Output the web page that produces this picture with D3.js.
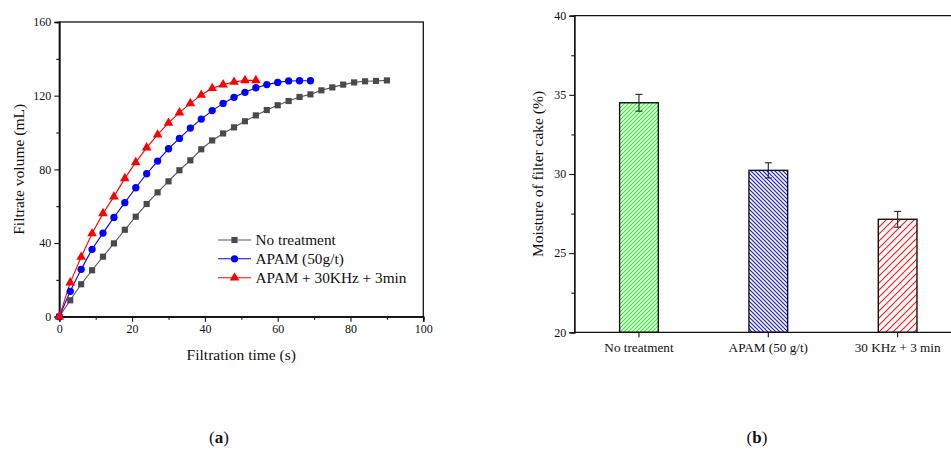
<!DOCTYPE html>
<html><head><meta charset="utf-8">
<script src="https://cdn.jsdelivr.net/npm/d3@7"></script>
<style>body{margin:0;background:#fff}svg{display:block}text{font-family:"Liberation Serif","Times New Roman",serif;fill:#111}</style>
</head><body>
<svg id="c" width="951" height="450"></svg>
<script>
// ---------- data (a) ----------
const timeNo = [0,3,6,9,12,15,18,21,24,27,30,33,36,39,42,45,48,51,54,57,60,63,66,69,72,75,78,81,84,87,90];
const volNo = [0,8.9,17.6,25.2,32.6,39.8,47.2,54.3,61.2,67.5,73.5,79.5,84.9,90.9,95.7,99.5,102.8,106.1,109.3,112.2,114.8,117.1,119.3,120.7,122.9,124.5,126.0,127.2,127.8,128.0,128.3];
const timeApam = [0,3,6,9,12,15,18,21,24,27,30,33,36,39,42,45,48,51,54,57,60,63,66,69];
const volApam = [0,13.8,25.7,36.6,45.4,53.9,61.9,70.0,77.6,84.5,91.2,96.8,102.4,107.3,111.9,115.8,119.1,121.8,124.3,126.0,127.2,128.0,128.1,128.1];
const timeUs = [0,3,6,9,12,15,18,21,24,27,30,33,36,39,42,45,48,51,54];
const volUs = [0,18.5,32.4,45.2,56.1,65.2,75.1,83.8,91.8,98.8,105.2,110.8,115.8,120.4,124.0,126.0,127.4,128.3,128.3];
const seriesNames = ["No treatment","APAM (50g/t)","APAM + 30KHz + 3min"];
const xTicksA = [0,20,40,60,80,100];
const yTicksA = [0,40,80,120,160];
// ---------- data (b) ----------
const categoriesB = ["No treatment","APAM (50 g/t)","30 KHz + 3 min"];
const moisture = [34.5,30.23,27.14];
const moistureErr = [0.53,0.48,0.5];
const yTicksB = [20,25,30,35,40];

const svg = d3.select("#c");
const defs = svg.append("defs");

// ---------- panel (a) ----------
const xA = d3.scaleLinear().domain([0,100]).range([59.3,423.3]);
const yA = d3.scaleLinear().domain([0,160]).range([316.7,22]);
const gA = svg.append("g");
gA.append("rect").attr("x",xA(0)).attr("y",yA(160)).attr("width",xA(100)-xA(0)).attr("height",yA(0)-yA(160))
  .attr("fill","none").attr("stroke","#111").attr("stroke-width",1.3);
const axXA = gA.append("g").attr("transform",`translate(0,${yA(0)})`)
  .call(d3.axisBottom(xA).tickValues(xTicksA).tickSize(5).tickPadding(3).tickFormat(d3.format("d")));
const axXAm = gA.append("g").attr("transform",`translate(0,${yA(0)})`)
  .call(d3.axisBottom(xA).tickValues([10,30,50,70,90]).tickSize(3).tickFormat(""));
const axYA = gA.append("g").attr("transform",`translate(${xA(0)},0)`)
  .call(d3.axisLeft(yA).tickValues(yTicksA).tickSize(5).tickPadding(3).tickFormat(d3.format("d")));
const axYAm = gA.append("g").attr("transform",`translate(${xA(0)},0)`)
  .call(d3.axisLeft(yA).tickValues([20,60,100,140]).tickSize(3).tickFormat(""));
[axXA,axXAm,axYA,axYAm].forEach(a=>{a.select(".domain").attr("stroke","#111").attr("stroke-width",1.3);a.selectAll("line").attr("stroke","#111").attr("stroke-width",1.1);a.selectAll("text").attr("font-size",12).attr("fill","#111").attr("font-family","Liberation Serif");});
gA.append("text").attr("x",xA(50)).attr("y",360).attr("text-anchor","middle").attr("font-size",15.5).text("Filtration time (s)");
gA.append("text").attr("transform",`translate(24,${yA(80)}) rotate(-90)`).attr("text-anchor","middle").attr("font-size",15.5).text("Filtrate volume (mL)");

const seriesA = [
  {t:timeNo,v:volNo,color:"#555555",mcolor:"#4a4a4a",shape:d3.symbolSquare,size:38},
  {t:timeApam,v:volApam,color:"#0000ff",mcolor:"#0000ff",shape:d3.symbolCircle,size:42},
  {t:timeUs,v:volUs,color:"#ff0000",mcolor:"#ff0000",shape:d3.symbolTriangle,size:40}
];
const line = d3.line().x(d=>xA(d[0])).y(d=>yA(d[1]));
seriesA.forEach(s=>{
  const pts = s.t.map((t,i)=>[t,s.v[i]]);
  gA.append("path").attr("d",line(pts)).attr("fill","none").attr("stroke",s.color).attr("stroke-width",1.1);
});
seriesA.forEach(s=>{
  const pts = s.t.map((t,i)=>[t,s.v[i]]);
  gA.selectAll(null).data(pts).enter().append("path")
    .attr("transform",d=>`translate(${xA(d[0])},${yA(d[1])})`)
    .attr("d",d3.symbol().type(s.shape).size(s.size)).attr("fill",s.mcolor);
});
const legRows = [240,258.8,277.7];
seriesA.forEach((s,i)=>{
  const y = legRows[i];
  gA.append("line").attr("x1",218).attr("x2",251).attr("y1",y).attr("y2",y).attr("stroke",s.color).attr("stroke-width",1.1);
  gA.append("path").attr("transform",`translate(234.5,${y})`).attr("d",d3.symbol().type(s.shape).size(s.size)).attr("fill",s.mcolor);
  gA.append("text").attr("x",255.5).attr("y",y+5).attr("font-size",15.3).text(seriesNames[i]);
});
svg.append("text").attr("x",219).attr("y",443).attr("text-anchor","middle").attr("font-size",17)
  .html('(<tspan font-weight="bold">a</tspan>)');

// ---------- panel (b) ----------
const xB = d3.scaleBand().domain(categoriesB).range([574.3,962.3]).paddingInner(0).paddingOuter(0);
const yB = d3.scaleLinear().domain([20,40]).range([332.3,15.7]);
const gB = svg.append("g");
const pats = [
  {id:"pg",color:"#00ff00",size:4,dir:1},
  {id:"pb",color:"#0000ff",size:4,dir:-1},
  {id:"pr",color:"#ff0000",size:7,dir:1}
];
pats.forEach(p=>{
  const pt = defs.append("pattern").attr("id",p.id).attr("patternUnits","userSpaceOnUse")
    .attr("width",p.size).attr("height",p.size);
  pt.append("rect").attr("width",p.size).attr("height",p.size).attr("fill","#fff");
  const s=p.size;
  const d = p.dir===1
    ? `M0,${s} L${s},0 M${-s/2},${s/2} L${s/2},${-s/2} M${s/2},${s*1.5} L${s*1.5},${s/2}`
    : `M0,0 L${s},${s} M${-s/2},${s/2} L${s/2},${s*1.5} M${s/2},${-s/2} L${s*1.5},${s/2}`;
  pt.append("path").attr("d",d).attr("stroke",p.color).attr("stroke-width",1.2).attr("stroke-opacity",0.9);
});
const barW = 38.7;
gB.selectAll(null).data(categoriesB).enter().append("rect")
  .attr("x",d=>xB(d)+xB.bandwidth()/2-barW/2).attr("y",(d,i)=>yB(moisture[i]))
  .attr("width",barW).attr("height",(d,i)=>yB(20)-yB(moisture[i]))
  .attr("fill",(d,i)=>`url(#${pats[i].id})`).attr("stroke","#111").attr("stroke-width",1.4);
categoriesB.forEach((c,i)=>{
  const cx = xB(c)+xB.bandwidth()/2;
  const y1 = yB(moisture[i]+moistureErr[i]), y2 = yB(moisture[i]-moistureErr[i]);
  const eb = gB.append("g").attr("stroke","#222").attr("stroke-width",1.1);
  eb.append("line").attr("x1",cx).attr("x2",cx).attr("y1",y1).attr("y2",y2);
  eb.append("line").attr("x1",cx-3.5).attr("x2",cx+3.5).attr("y1",y1).attr("y2",y1);
  eb.append("line").attr("x1",cx-3.5).attr("x2",cx+3.5).attr("y1",y2).attr("y2",y2);
});
gB.append("line").attr("x1",574.3).attr("x2",962.3).attr("y1",yB(40)).attr("y2",yB(40)).attr("stroke","#111").attr("stroke-width",1.3);
const axXB = gB.append("g").attr("transform",`translate(0,${yB(20)})`)
  .call(d3.axisBottom(xB).tickSize(5).tickPadding(5));
const axYB = gB.append("g").attr("transform",`translate(574.3,0)`)
  .call(d3.axisLeft(yB).tickValues(yTicksB).tickSize(5).tickPadding(3).tickFormat(d3.format("d")));
const axYBm = gB.append("g").attr("transform",`translate(574.3,0)`)
  .call(d3.axisLeft(yB).tickValues([22.5,27.5,32.5,37.5]).tickSize(3).tickFormat(""));
[axXB,axYB,axYBm].forEach(a=>{a.select(".domain").attr("stroke","#111").attr("stroke-width",1.3);a.selectAll("line").attr("stroke","#111").attr("stroke-width",1.1);a.selectAll("text").attr("font-size",12).attr("fill","#111").attr("font-family","Liberation Serif");});
axXB.selectAll("text").attr("font-size",13.2);
axXB.select(".domain").attr("d",`M574.3,0H962.3`);
gB.append("text").attr("transform",`translate(543,${yB(30)}) rotate(-90)`).attr("text-anchor","middle").attr("font-size",15.5).text("Moisture of filter cake (%)");
svg.append("text").attr("x",757).attr("y",443).attr("text-anchor","middle").attr("font-size",17)
  .html('(<tspan font-weight="bold">b</tspan>)');
</script>
</body></html>
